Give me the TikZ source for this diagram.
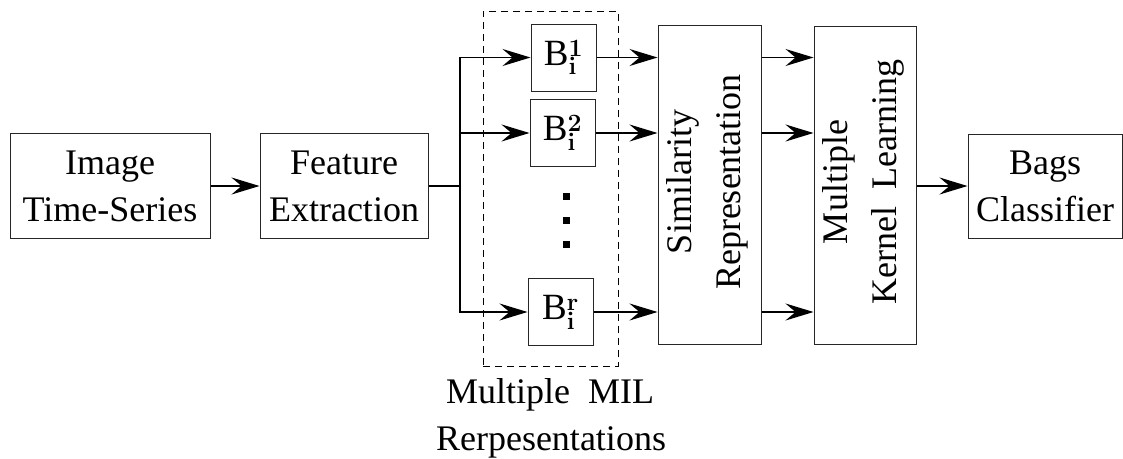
\documentclass[tikz,border=0pt]{standalone}
\usepackage[no-math]{fontspec}
\newfontfamily\tms{Liberation Serif}
\usetikzlibrary{arrows.meta,calc}
\begin{document}
\begin{tikzpicture}[x=1pt,y=-1pt,
  box/.style={draw=black!85,line width=1pt,inner sep=0pt,align=center,
    font=\tms\fontsize{36}{47}\selectfont},
  bbox/.style={draw=black!85,line width=1pt,inner sep=0pt,
    minimum width=65pt,minimum height=67pt,font=\tms\fontsize{37}{47}\selectfont},
  lbl/.style={inner sep=0pt,align=center,font=\tms\fontsize{36}{49}\selectfont},
  arr/.style={line width=1.3pt,-{Stealth[length=28pt,width=17pt,inset=10pt]}},
  ln/.style={line width=1.3pt},
  dot/.style={fill=black,inner sep=0pt,minimum size=7pt}]
\useasboundingbox (0,0) rectangle (1123,458);
% main boxes
\node[box,minimum width=200pt,minimum height=105pt] (img) at (110,186) {Image\\Time-Series};
\node[box,minimum width=168pt,minimum height=105pt] (feat) at (344,186) {Feature\\Extraction};
\node[draw,line width=1pt,dash pattern=on 7pt off 5pt,minimum width=135pt,minimum height=355pt,inner sep=0pt] (grp) at (550.5,188.5) {};
\node[bbox] (b1) at (563.5,57.5) {B$^{\mathbf{1}}_{\mathbf{i}}$};
\node[bbox] (b2) at (562.5,133) {B$^{\mathbf{2}}_{\mathbf{i}}$};
\node[bbox] (br) at (560.5,312) {B$^{\mathbf{r}}_{\mathbf{i}}$};
\node[dot] (d1) at (566,196) {};
\node[dot] (d2) at (566,220) {};
\node[dot] (d3) at (566,244) {};
\node[box,minimum width=103pt,minimum height=319pt] (sim) at (709.5,184.5) {};
\node[lbl,rotate=90] (simtxt) at (707,182) {Similarity\\Representation};
\node[box,minimum width=102pt,minimum height=318pt] (mkl) at (865,185) {};
\node[lbl,rotate=90] (mkltxt) at (863,182) {Multiple\\Kernel\ \ Learning};
\node[box,minimum width=154pt,minimum height=104pt] (bags) at (1045,186) {Bags\\Classifier};
\node[lbl,anchor=base] (cap1) at (550,403) {Multiple\ \ MIL};
\node[lbl,anchor=base] (cap2) at (551,450) {Rerpesentations};
% connectors
\coordinate (split) at (460,186);
\draw[arr] (img) -- (feat);
\draw[ln] (feat.east) -- (split);
\draw[arr] (split) |- (b1.west);
\draw[arr] (split) |- (b2.west);
\draw[arr] (split) |- (br.west);
\draw[arr] (b1.east) -- (b1.east -| sim.west);
\draw[arr] (b2.east) -- (b2.east -| sim.west);
\draw[arr] (br.east) -- (br.east -| sim.west);
\draw[arr] (sim.east |- b1) -- (mkl.west |- b1);
\draw[arr] (sim.east |- b2) -- (mkl.west |- b2);
\draw[arr] (sim.east |- br) -- (mkl.west |- br);
\draw[arr] (mkl.east |- bags) -- (bags.west);
\end{tikzpicture}
\end{document}
